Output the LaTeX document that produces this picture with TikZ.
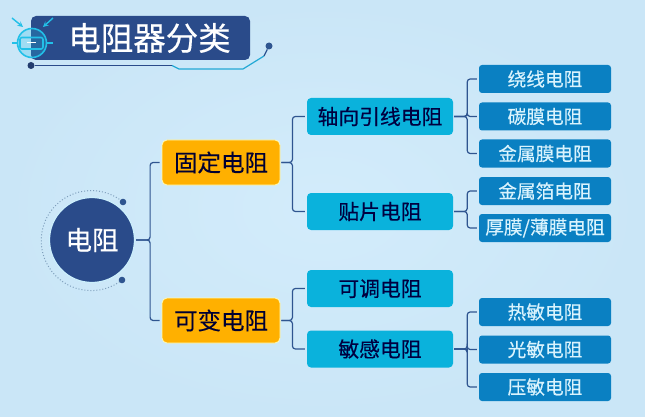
\documentclass[tikz,border=0pt]{standalone}
\usepackage{fontspec}
\setmainfont[FakeBold=0.35]{Noto Sans CJK SC}
\definecolor{navy}{HTML}{2A4B8A}
\definecolor{linkblue}{HTML}{2F5590}
\definecolor{amber}{HTML}{FFB000}
\definecolor{skybox}{HTML}{0AB2DC}
\definecolor{deepbox}{HTML}{0A80C2}
\definecolor{iconcyan}{HTML}{22C0E8}
\definecolor{paleback}{HTML}{D3ECFB}
\definecolor{edgeback}{HTML}{CAE6F7}
\definecolor{ringdot}{HTML}{7F9FBC}
\tikzset{
	fsize/.style={font=\fontsize{#1}{#1}\selectfont},
	rootbox/.style={circle,fill=navy,draw=white!80!cyan,line width=1.2pt,minimum size=85pt,inner sep=0pt,text=white,fsize=26.5},
	fixbox/.style={rounded corners=5pt,fill=amber,draw=yellow!30,line width=.8pt,minimum width=118pt,minimum height=45pt,inner sep=0pt,text=black!80!blue,fsize=23.5},
	midbox/.style={rounded corners=4pt,fill=skybox,minimum width=146pt,minimum height=37pt,inner sep=0pt,text=black!75!blue,fsize=20.8},
	leafbox/.style={rounded corners=3pt,fill=deepbox,minimum width=132pt,minimum height=28pt,inner sep=0pt,text=white!85!cyan,fsize=18.7},
	link/.style={draw=linkblue,line width=1.2pt,rounded corners=3pt,shorten <=1pt,shorten >=2pt},
}
\begin{document}
\begin{tikzpicture}[x=1pt,y=-1pt,>=stealth]
	\useasboundingbox (0,0) rectangle (645,417);
	\shade[inner color=paleback,outer color=edgeback] (0,0) rectangle (645,417);
	% title
	\node[rounded corners=5pt,fill=navy,minimum width=219pt,minimum height=44pt,inner sep=0pt] (titlebar) at (140.5,38) {};
	\node[text=white,fsize=32.5] (titletext) at (149.5,38) {电阻器分类};
	\node[circle,fill=navy!80!black,minimum size=7pt,inner sep=0pt] (dotleft) at (31,65.5) {};
	\node[circle,fill=linkblue,minimum size=7pt,inner sep=0pt] (dotright) at (269,46) {};
	\coordinate (bendone) at (172,65.5);
	\coordinate (bendtwo) at (179,69);
	\coordinate (bendthree) at (243,69);
	\coordinate (bendfour) at (264,56);
	\draw[navy,line width=1.2pt] (dotleft) -- (bendone);
	\draw[iconcyan!80!navy,line width=1.2pt] (bendone) -- (bendtwo) -- (bendthree) -- (bendfour);
	\draw[linkblue,line width=1.2pt] (bendfour) -- (dotright);
	% icon
	\fill[iconcyan,opacity=.25] (32,43) circle (14.5);
	\draw[iconcyan,line width=1.6pt] (32,43) circle (14.5);
	\draw[iconcyan,line width=1.6pt,rounded corners=2pt] (20,37.5) rectangle (43,49);
	\draw[white,line width=1pt] (27,43) -- (36,43);
	\draw[iconcyan,line width=1.4pt] (12,43) -- (17.5,43) (47,43) -- (53,43);
	\draw[iconcyan,line width=1.4pt,->] (12,18) -- (23,27);
	\draw[iconcyan,line width=1.4pt,->] (53,18) -- (43,27);
	% root
	\draw[ringdot,line width=1pt,dotted] (122,280) arc (52:308:50);
	\node[rootbox] (root) at (92,240) {电阻};
	\fill[linkblue] (123,202) circle (3.3) (122,280) circle (3.3);
	% first level
	\node[fixbox] (fixed) at (221,162.5) {固定电阻};
	\node[fixbox] (vari) at (221,320.5) {可变电阻};
	% second level
	\node[midbox] (axial) at (380,116.5) {轴向引线电阻};
	\node[midbox] (chip) at (380,211.5) {贴片电阻};
	\node[midbox] (adjust) at (380,288.5) {可调电阻};
	\node[midbox] (sense) at (380,349) {敏感电阻};
	% leaves
	\node[leafbox] (wound) at (545,79) {绕线电阻};
	\node[leafbox] (carbon) at (545,116.5) {碳膜电阻};
	\node[leafbox] (metal) at (545,153.5) {金属膜电阻};
	\node[leafbox] (foil) at (545,191) {金属箔电阻};
	\node[leafbox] (film) at (545,228) {厚膜/薄膜电阻};
	\node[leafbox] (thermo) at (545,312) {热敏电阻};
	\node[leafbox] (photo) at (545,349.5) {光敏电阻};
	\node[leafbox] (press) at (545,387) {压敏电阻};
	% connectors
	\foreach \a/\b in {root/fixed,root/vari}
		\draw[link] (\a.east) -- ++(15,0) |- (\b.west);
	\foreach \a/\b in {fixed/axial,fixed/chip,vari/adjust,vari/sense}
		\draw[link] (\a.east) -- ++(12,0) |- (\b.west);
	\foreach \a/\b in {axial/wound,axial/carbon,axial/metal,chip/foil,chip/film,sense/thermo,sense/photo,sense/press}
		\draw[link] (\a.east) -- ++(14,0) |- (\b.west);
\end{tikzpicture}
\end{document}
